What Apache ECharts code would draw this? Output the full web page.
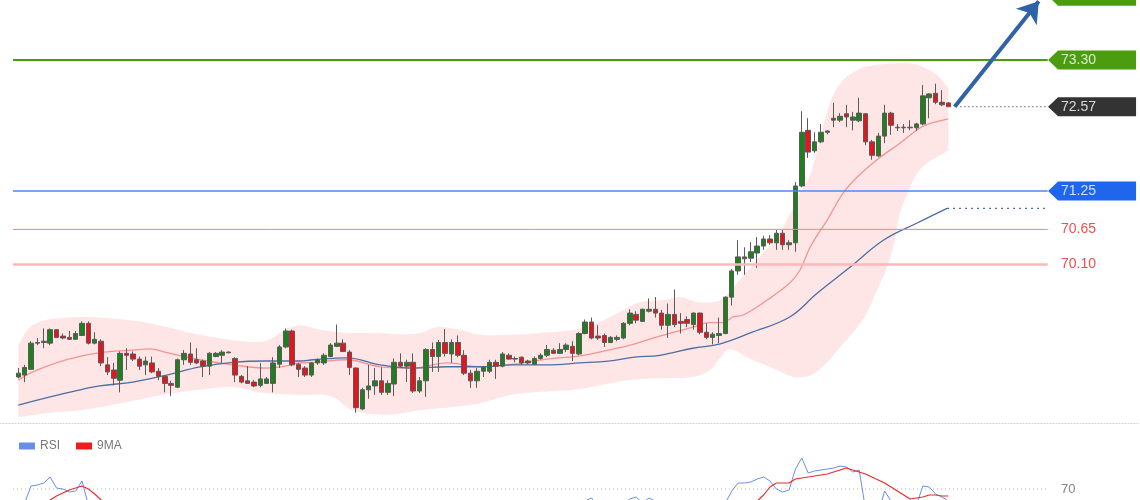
<!DOCTYPE html>
<html><head><meta charset="utf-8">
<script src="https://cdn.jsdelivr.net/npm/echarts@6/dist/echarts.min.js"></script>
<style>html,body{margin:0;padding:0;background:#fff}#c{width:1140px;height:500px}</style>
</head><body><div id="c"></div>
<script>
// ---- data (open, close, low, high) ----
const ohlc = [
[68.34,68.40,68.32,68.48],[68.37,68.49,68.26,68.53],[68.46,68.87,68.45,68.90],[68.87,68.88,68.84,68.95],
[68.88,68.90,68.79,69.10],[68.87,69.08,68.84,69.10],[69.08,68.96,68.95,69.09],[68.98,68.95,68.93,69.02],
[68.96,68.93,68.92,69.06],[68.93,69.02,68.92,69.06],[68.99,69.18,68.98,69.21],[69.18,68.87,68.85,69.21],
[68.87,68.93,68.85,69.04],[68.90,68.56,68.51,68.93],[68.53,68.42,68.37,68.65],[68.45,68.32,68.21,68.56],
[68.29,68.71,68.10,68.74],[68.71,68.68,68.45,68.79],[68.70,68.62,68.59,68.74],[68.62,68.51,68.45,68.66],
[68.53,68.59,68.37,68.66],[68.56,68.42,68.40,68.66],[68.43,68.35,68.29,68.48],[68.35,68.24,68.10,68.37],
[68.24,68.21,68.04,68.28],[68.18,68.61,68.17,68.63],[68.61,68.71,68.53,68.76],[68.70,68.57,68.53,68.88],
[68.61,68.56,68.54,68.79],[68.59,68.51,68.34,68.61],[68.51,68.71,68.37,68.73],[68.66,68.71,68.65,68.73],
[68.68,68.73,68.56,68.76],[68.73,68.72,68.71,68.74],[68.63,68.37,68.26,68.65],[68.35,68.26,68.24,68.37],
[68.28,68.24,68.23,68.51],[68.26,68.20,68.18,68.29],[68.21,68.31,68.18,68.56],[68.24,68.31,68.23,68.34],
[68.24,68.56,68.10,68.65],[68.54,68.81,68.48,68.84],[68.81,69.06,68.79,69.10],[69.06,68.53,68.51,69.08],
[68.54,68.46,68.34,68.56],[68.48,68.37,68.34,68.51],[68.37,68.56,68.34,68.57],[68.56,68.61,68.53,68.63],
[68.56,68.68,68.53,68.71],[68.66,68.84,68.65,68.87],[68.82,68.87,68.81,69.16],[68.87,68.74,68.73,68.93],
[68.73,68.49,68.37,68.76],[68.48,67.86,67.78,68.49],[67.84,68.14,67.82,68.17],[68.14,68.20,68.00,68.53],
[68.20,68.28,68.06,68.48],[68.28,68.10,68.06,68.49],[68.10,68.24,68.06,68.29],[68.23,68.57,68.04,68.63],
[68.57,68.51,68.49,68.71],[68.51,68.57,68.26,68.61],[68.57,68.12,68.09,68.71],[68.12,68.28,68.09,68.34],
[68.28,68.77,68.03,68.79],[68.77,68.66,68.42,68.88],[68.66,68.88,68.42,68.92],[68.88,68.71,68.66,69.09],
[68.70,68.88,68.56,68.93],[68.88,68.68,68.65,68.99],[68.68,68.40,68.37,68.76],[68.40,68.28,68.17,68.45],
[68.28,68.43,68.17,68.48],[68.43,68.49,68.34,68.51],[68.43,68.57,68.40,68.61],[68.57,68.51,68.31,68.61],
[68.51,68.70,68.49,68.73],[68.68,68.62,68.61,68.71],[68.63,68.62,68.57,68.66],[68.65,68.56,68.53,68.66],
[68.59,68.56,68.54,68.61],[68.54,68.63,68.53,68.66],[68.63,68.68,68.61,68.71],[68.68,68.77,68.65,68.84],
[68.76,68.71,68.70,68.79],[68.71,68.77,68.70,68.87],[68.77,68.84,68.73,68.87],[68.82,68.71,68.59,68.90],
[68.70,69.02,68.68,69.04],[69.02,69.20,69.01,69.24],[69.20,68.95,68.93,69.27],[68.98,68.95,68.92,69.15],
[68.99,68.88,68.81,69.02],[68.88,68.96,68.87,68.98],[68.93,68.96,68.90,68.99],[68.95,69.18,68.93,69.20],
[69.18,69.34,69.15,69.40],[69.32,69.23,69.18,69.37],[69.21,69.40,69.20,69.41],[69.37,69.40,69.35,69.57],
[69.40,69.34,69.27,69.59],[69.34,69.15,69.08,69.39],[69.15,69.32,68.95,69.49],[69.32,69.16,69.12,69.71],
[69.21,69.18,69.02,69.34],[69.24,69.18,69.12,69.29],[69.16,69.34,69.08,69.35],[69.34,69.04,69.01,69.35],
[69.04,68.96,68.93,69.18],[68.96,69.01,68.85,69.04],[68.99,69.02,68.87,69.27],[69.02,69.59,69.01,69.60],
[69.59,70.00,69.46,70.03],[70.00,70.22,69.94,70.48],[70.19,70.22,69.94,70.37],[70.20,70.30,70.14,70.45],
[70.28,70.39,70.05,70.53],[70.39,70.50,70.33,70.55],[70.50,70.44,70.41,70.56],[70.44,70.59,70.33,70.64],
[70.59,70.41,70.33,70.64],[70.41,70.44,70.33,70.48],[70.44,71.33,70.30,71.39],[71.33,72.17,71.31,72.50],
[72.20,71.86,71.77,72.39],[71.88,72.02,71.85,72.17],[72.02,72.17,72.00,72.30],[72.17,72.19,72.14,72.20],
[72.39,72.36,72.25,72.63],[72.36,72.42,72.33,72.47],[72.46,72.41,72.25,72.60],[72.36,72.41,72.20,72.49],
[72.35,72.47,72.33,72.71],[72.46,72.02,71.97,72.47],[72.02,71.81,71.74,72.05],[71.80,72.11,71.78,72.16],
[72.11,72.47,72.00,72.60],[72.47,72.28,72.13,72.49],[72.25,72.24,72.19,72.30],[72.25,72.24,72.16,72.30],
[72.24,72.25,72.20,72.36],[72.24,72.30,72.19,72.32],[72.30,72.74,72.28,72.91],[72.71,72.77,72.39,72.78],
[72.78,72.64,72.61,72.93],[72.64,72.60,72.58,72.83],[72.63,72.57,72.57,72.64]
];
// Bollinger envelope and moving averages: [candle index, price]
const bandUpper = [[0,68.84],[1.8,69.12],[4.2,69.23],[6.5,69.26],[9.7,69.28],[14.4,69.26],[19.6,69.20],[23.8,69.11],
[28.5,69.00],[33.7,68.92],[38.7,68.90],[41.9,69.08],[44.2,69.15],[47.4,69.08],[52.1,69.03],[56.8,69.03],[60,69.01],
[63.1,69.03],[65.7,69.12],[69.3,69.08],[72.5,69.00],[77.2,69.00],[81.9,69.03],[87.4,69.08],[91.3,69.20],[94.5,69.36],
[97.6,69.51],[101.2,69.54],[103.9,69.59],[107,69.51],[110.2,69.54],[112.5,69.78],[114.9,70.05],[116.9,70.28],
[119.1,70.53],[121.1,70.88],[122.7,71.22],[124.3,71.50],[125.4,71.89],[126.6,72.36],[127.9,72.75],[129.5,72.99],
[131.7,73.14],[133.7,73.21],[136.1,73.24],[138.4,73.25],[140.8,73.24],[143.1,73.14],[144.7,73.02],[146,72.86]];
const bandLower = [[0,67.71],[5,67.78],[9.7,67.82],[17.1,67.95],[23.8,68.08],[28.5,68.14],[33.7,68.18],[38.7,68.09],
[44.2,68.06],[49.1,68.04],[52.5,67.82],[57.9,67.75],[63.1,67.82],[68.2,67.87],[72.5,67.93],[77.2,68.06],[82.2,68.11],
[87.4,68.14],[91.3,68.21],[95.6,68.29],[100.7,68.32],[105.9,68.34],[108.6,68.45],[110.2,68.64],[111.3,68.76],
[112.5,68.76],[114.4,68.65],[117.2,68.53],[119.1,68.45],[121.6,68.34],[122.7,68.34],[124.3,68.36],[126.6,68.53],
[129,68.81],[131.4,69.08],[133.2,69.34],[134.8,69.70],[136.4,70.06],[137.6,70.48],[138.4,70.91],[140,71.30],
[141.1,71.53],[142.7,71.69],[144.7,71.81],[146,71.89]];
const ma20 = [[0,68.29],[2.3,68.42],[7.6,68.61],[12.8,68.72],[18,68.76],[20.7,68.78],[23.3,68.72],[28.5,68.61],
[33.7,68.53],[39,68.48],[41.9,68.51],[44.2,68.56],[46.3,68.57],[51.6,68.61],[56.8,68.50],[62,68.48],[67.3,68.56],
[72.5,68.50],[77.7,68.54],[83,68.62],[88.2,68.67],[92.6,68.76],[96.8,68.86],[100.7,68.98],[105.9,69.12],
[108.6,69.19],[110.6,69.19],[112.2,69.28],[113.8,69.31],[117.5,69.54],[121.1,69.81],[122.7,70.01],[124.3,70.37],
[127,70.80],[129.5,71.22],[131.7,71.47],[134.8,71.74],[138.4,72.00],[141.6,72.24],[143.6,72.32],[146,72.38]];
const ma50 = [[0,67.90],[7.6,68.09],[12.8,68.20],[18,68.26],[23.3,68.37],[28.5,68.50],[33.7,68.57],[39,68.59],
[44.2,68.59],[46.3,68.61],[51.6,68.64],[56.8,68.53],[62,68.48],[67.3,68.50],[72.5,68.50],[77.7,68.53],[83,68.53],
[88.2,68.56],[92.6,68.59],[96.8,68.65],[100.7,68.68],[105.9,68.79],[110.2,68.86],[114.9,69.03],[121.1,69.28],
[125.4,69.65],[130.6,70.06],[135.8,70.48],[141.1,70.75],[145.8,70.98]];
// RSI panel: [candle index, value]
const rsi = [[0,58],[1,63],[2,71.5],[3,72],[4,73],[5,76],[6,70.5],[7,70],[8,68.5],[9,69],[10,74],[11,62],[12,60],
[13,61],[14,50],[15,45],[16,40],[17,50],[18,49],[20,46],[22,44],[24,38],[25,37],[26,50],[28,53],[30,48],[32,54],
[34,55],[35,44],[38,40],[40,44],[42,56],[43,61],[44,48],[46,45],[48,50],[50,55],[51,56],[53,45],[54,33],[56,42],
[58,41],[60,50],[62,45],[64,47],[65,57],[67,58],[69,57],[71,50],[73,48],[75,54],[77,56],[80,53],[83,57],[86,59],
[88,58],[89,64],[90,65.5],[91,60],[92,60],[93,58],[94,60],[95,63],[96,65],[97,66],[98,63],[99,65.5],[100,64],
[101,62],[102,57],[104,58],[106,57],[108,53],[109,50],[110,53],[111,63],[112,69],[113,73],[114,73],[115,73.5],
[116,75],[117,76],[118,74],[119,70],[120,68.5],[121,69.5],[122,80],[123,85.5],[124,78],[125,79],[126,79.5],
[127,80],[128,80.5],[129,81.5],[130,81],[131,78.5],[132,79.5],[133,60],[134,55],[135,58],[136,69],[137,64],
[138,60],[139,59],[140,60],[141,62],[142,71.5],[143,71],[144,67.5],[145,66],[146,64]];
const rsiMA9 = [[0,52],[2,56],[4,62],[5,64.5],[6,66.5],[7,68],[8,69.5],[9,70.5],[10,71.5],[11,70],[12,67.5],
[13,64.5],[14,62],[16,58],[20,53],[25,48],[30,47],[35,48],[40,47],[45,50],[50,51],[55,46],[60,47],[65,50],[70,53],
[75,52],[80,54],[85,56],[90,59],[95,61],[100,62],[105,60],[110,57],[113,59],[114,61],[115,62.5],[116,64],[117,67],
[118,71],[119,73],[120,73],[121,73],[122,75],[123,75.5],[124,76],[125,76.5],[126,77],[127,77.5],[128,78.5],
[129,79.5],[130,80.5],[131,79.5],[132,78.5],[133,77.5],[134,76],[135,74.5],[136,73],[137,71],[138,69],[139,67],
[140,65],[141,65.5],[142,66],[143,67],[144,67],[145,66.5],[146,66.5]];
const levelValues = [74.30, 73.30, 72.57, 71.25, 70.65, 70.10];
const levelLabels = ['74.30', '73.30', '72.57', '71.25', '70.65', '70.10'];
const rsiLevelValue = 70;
const rsiLevelLabel = '70';
const arrowTarget = [160.2, 74.22];
const legendNames = ['RSI', '9MA'];

// ---- layout / style ----
const X_MIN = -2.873, X_MAX = 176.09;
const LINE_START = -0.83, LINE_END = 161.6, TAG_X = 168.56, TEXT_X = 163.69, DOT_START = 147.9, MA_EXT_END = 161.2;
const ARROW_GAP = 1;
const FONT = 'Liberation Sans, Arial, sans-serif';
const levelStyles = [
  {line: '#4c9c10', width: 2, type: 'solid', tag: '#4c9c10', text: '#ffffff', start: LINE_START},
  {line: '#4c9c10', width: 2, type: 'solid', tag: '#4c9c10', text: '#ffffff', start: LINE_START},
  {line: '#222222', width: 1, type: 'dotted', tag: '#333333', text: '#ffffff', start: DOT_START},
  {line: '#4d87f0', width: 1.5, type: 'solid', tag: '#1f66ee', text: '#ffffff', start: LINE_START},
  {line: '#f08585', width: 1, type: 'solid', tag: null, text: '#ee2020', start: LINE_START},
  {line: '#fab8b8', width: 2.5, type: 'solid', tag: null, text: '#ee2020', start: LINE_START}
];
const TAG_PATH = 'path://M0,9.5 L10,0 L88,0 L88,19 L10,19 Z';

const chart = echarts.init(document.getElementById('c'));
const lastIdx = ohlc.length - 1;
const candleData = ohlc.map((d, i) => [i, d[0], d[1], d[2], d[3]]);
const maLast = ma50[ma50.length - 1];

function dupEnds(arr) { return [arr[0]].concat(arr, [arr[arr.length - 1]]); }

const series = [];
series.push({
  type: 'custom', xAxisIndex: 0, yAxisIndex: 0, silent: true, z: 1, clip: false,
  data: [[0, levelValues[0]]],
  renderItem: function (params, api) {
    if (params.dataIndex !== 0) return null;
    const up = dupEnds(bandUpper.map(p => api.coord(p)));
    const lo = dupEnds(bandLower.slice().reverse().map(p => api.coord(p)));
    return {type: 'polygon', shape: {points: up.concat(lo), smooth: 0.35}, style: {fill: 'rgba(250,120,120,0.19)'}};
  }
});
series.push({type: 'line', xAxisIndex: 0, yAxisIndex: 0, data: ma20, showSymbol: false, smooth: 0.4, z: 2, silent: true,
  lineStyle: {color: '#f39494', width: 1.3}});
series.push({type: 'line', xAxisIndex: 0, yAxisIndex: 0, data: ma50, showSymbol: false, smooth: 0.4, z: 2, silent: true,
  lineStyle: {color: '#4d6ea3', width: 1.3}});
series.push({type: 'line', xAxisIndex: 0, yAxisIndex: 0, data: [maLast, [MA_EXT_END, maLast[1]]], showSymbol: false, z: 2, silent: true,
  lineStyle: {color: '#4d6ea3', width: 1.2, type: [2, 4]}});
series.push({
  type: 'candlestick', xAxisIndex: 0, yAxisIndex: 0, data: candleData, encode: {x: 0, y: [1, 2, 3, 4]},
  barWidth: 5, z: 3, silent: true,
  itemStyle: {color: '#1f7f1f', color0: '#e4151d', borderColor: '#5a5a5a', borderColor0: '#5a5a5a', borderColorDoji: '#5a5a5a', borderWidth: 1},
  markLine: {
    silent: true, symbol: ['none', 'arrow'], symbolSize: 20, animation: false,
    lineStyle: {color: '#2f62a6', width: 4, type: 'solid'}, label: {show: false},
    data: [[{coord: [lastIdx + ARROW_GAP, ohlc[lastIdx][1]]}, {coord: arrowTarget}]]
  }
});
levelValues.forEach((v, i) => {
  const s = levelStyles[i];
  series.push({type: 'line', xAxisIndex: 0, yAxisIndex: 0, data: [[s.start, v], [LINE_END, v]], showSymbol: false, z: 4, silent: true,
    lineStyle: {color: s.line, width: s.width, type: s.type === 'dotted' ? [1, 3] : 'solid'}});
});
series.push({
  type: 'scatter', xAxisIndex: 0, yAxisIndex: 0, z: 5, silent: true,
  symbol: TAG_PATH, symbolSize: [88, 19], symbolKeepAspect: false,
  itemStyle: {opacity: 1},
  data: levelValues.map((v, i) => levelStyles[i].tag ? {value: [TAG_X, v], itemStyle: {color: levelStyles[i].tag, opacity: 1}} : null).filter(Boolean)
});
series.push({
  type: 'scatter', xAxisIndex: 0, yAxisIndex: 0, z: 6, silent: true, symbolSize: 1,
  itemStyle: {color: 'rgba(0,0,0,0)'},
  data: levelValues.map((v, i) => ({value: [TEXT_X, v], label: {color: levelStyles[i].text}, name: levelLabels[i]})),
  label: {show: true, position: 'inside', align: 'left', verticalAlign: 'middle', fontSize: 14, fontFamily: FONT,
    formatter: p => p.name}
});
// RSI panel
series.push({type: 'line', xAxisIndex: 1, yAxisIndex: 1, data: [[LINE_START, rsiLevelValue], [LINE_END, rsiLevelValue]], showSymbol: false, silent: true,
  lineStyle: {color: '#b8b8b8', width: 1, type: [1, 3]}});
series.push({type: 'scatter', xAxisIndex: 1, yAxisIndex: 1, silent: true, symbolSize: 1, itemStyle: {color: 'rgba(0,0,0,0)'},
  data: [{value: [TEXT_X, rsiLevelValue], name: rsiLevelLabel}],
  label: {show: true, position: 'inside', align: 'left', verticalAlign: 'middle', fontSize: 13, color: '#666', fontFamily: FONT, formatter: p => p.name}});
series.push({name: legendNames[0], type: 'line', xAxisIndex: 1, yAxisIndex: 1, data: rsi, showSymbol: false, silent: true,
  itemStyle: {color: '#6a8ee6'}, lineStyle: {color: '#6a8ee6', width: 1}});
series.push({name: legendNames[1], type: 'line', xAxisIndex: 1, yAxisIndex: 1, data: rsiMA9, showSymbol: false, silent: true,
  itemStyle: {color: '#ee1c1c'}, lineStyle: {color: '#ee2a2a', width: 1.2}});

chart.setOption({
  animation: false,
  backgroundColor: '#ffffff',
  textStyle: {fontFamily: FONT},
  legend: {data: legendNames, left: 14, top: 435, icon: 'rect', itemWidth: 16, itemHeight: 7, itemGap: 16,
    textStyle: {color: '#777', fontSize: 12, fontFamily: FONT}, selectedMode: false},
  grid: [
    {left: 0, right: 0, top: -30, height: 453, outerBoundsMode: 'none'},
    {left: 0, right: 0, top: 429, height: 200, outerBoundsMode: 'none'}
  ],
  xAxis: [
    {type: 'value', gridIndex: 0, min: X_MIN, max: X_MAX, axisLabel: {show: false}, axisTick: {show: false}, splitLine: {show: false},
      axisLine: {show: true, onZero: false, lineStyle: {color: '#d0d0d0', type: [1, 2], width: 1}}},
    {type: 'value', gridIndex: 1, min: X_MIN, max: X_MAX, show: false}
  ],
  yAxis: [
    {type: 'value', gridIndex: 0, min: 67.62, max: 74.71, show: false},
    {type: 'value', gridIndex: 1, min: 0, max: 100, show: false}
  ],
  series: series
});
</script></body></html>
